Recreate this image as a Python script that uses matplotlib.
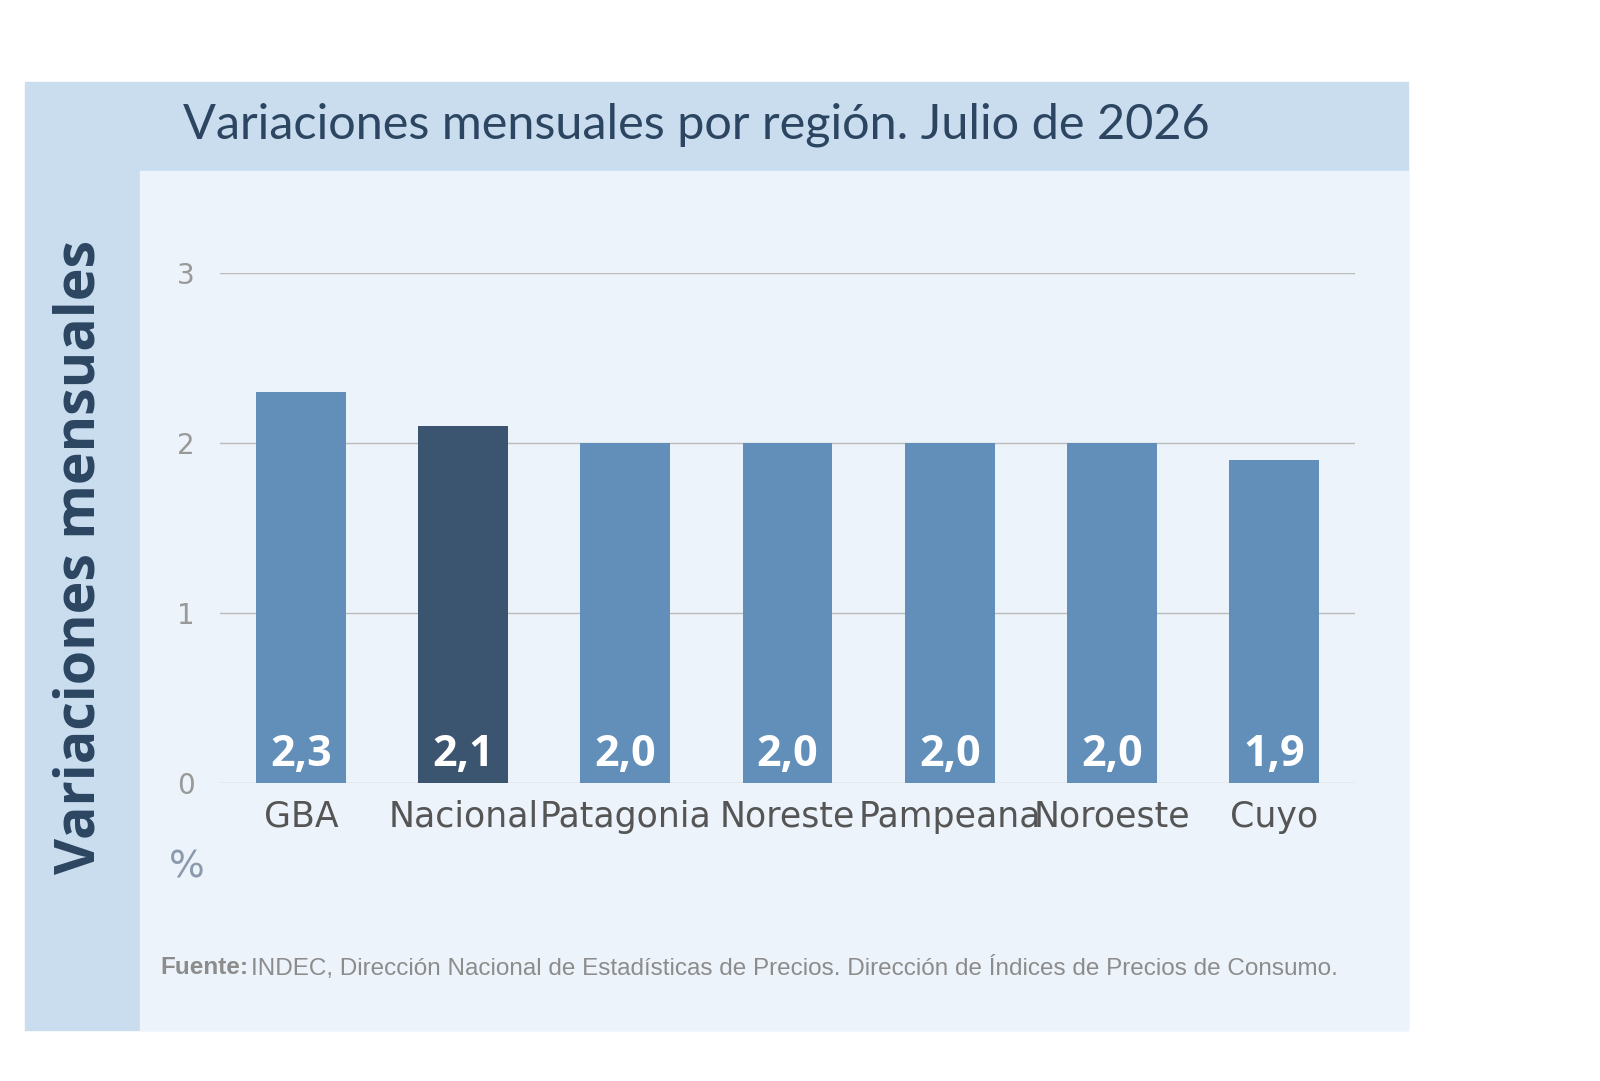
import matplotlib
matplotlib.use("Agg")
from matplotlib import pyplot as plt
from matplotlib.patches import Rectangle

regions = ["GBA", "Nacional", "Patagonia", "Noreste", "Pampeana", "Noroeste", "Cuyo"]
values = [2.3, 2.1, 2.0, 2.0, 2.0, 2.0, 1.9]
value_labels = ["2,3", "2,1", "2,0", "2,0", "2,0", "2,0", "1,9"]
y_ticks = [0, 1, 2, 3]

W, H = 1600, 1081
fig = plt.figure(figsize=(16, 10.81), dpi=100)
fig.patch.set_facecolor("white")

# background axes covering the figure, in pixel coordinates
bg = fig.add_axes([0, 0, 1, 1], zorder=0)
bg.set_xlim(0, W)
bg.set_ylim(H, 0)
bg.axis("off")
bg.add_patch(Rectangle((25, 82), 1408 - 25, 1030 - 82, color="#c9ddef"))
bg.add_patch(Rectangle((140, 171), 1408 - 140, 1030 - 171, color="#edf3fa"))

bg.text(183, 125, "Variaciones mensuales por región. Julio de 2026",
        fontsize=35, color="#2c4560", va="center", ha="left", family="Lato")
bg.text(80, 557, "Variaciones mensuales", rotation=90, fontsize=40,
        fontweight="bold", color="#2c4560", va="center", ha="center", family="Open Sans")
bg.text(187, 867, "%", fontsize=27, color="#8a9aac", va="center", ha="center")
bg.text(160, 968, "Fuente:", fontsize=17.5, color="#8c8c8c", fontweight="bold",
        va="center", ha="left", family="Liberation Sans")
bg.text(251, 968, "INDEC, Dirección Nacional de Estadísticas de Precios. "
        "Dirección de Índices de Precios de Consumo.", fontsize=17.5, color="#8c8c8c",
        va="center", ha="left", family="Liberation Sans")

ax = fig.add_axes([220 / W, 1 - 783 / H, 1135 / W, (783 - 273) / H], zorder=2)
ax.set_facecolor("none")
colors = ["#3b5570" if r == "Nacional" else "#628fba" for r in regions]
xs = range(len(regions))
ax.bar(xs, values, width=0.555, color=colors, zorder=2)
for x, lab in zip(xs, value_labels):
    ax.text(x, 0.17, lab, color="white", fontsize=31, fontweight="bold",
            ha="center", va="center", family="Open Sans", zorder=3)

ax.set_xlim(-0.5, len(regions) - 0.5)
ax.set_ylim(0, 3)
ax.set_yticks(y_ticks)
ax.set_xticks(list(xs))
ax.set_xticklabels(regions, fontsize=25, color="#555555",
                   family=["Liberation Sans Narrow", "DejaVu Sans"])
ax.tick_params(axis="y", labelsize=20, labelcolor="#999999", length=0, pad=18)
ax.tick_params(axis="x", length=0, pad=12)
ax.grid(axis="y", color="#bbbbbb", linewidth=1, zorder=1)
for s in ax.spines.values():
    s.set_visible(False)

fig.savefig("out.png", dpi=100)
